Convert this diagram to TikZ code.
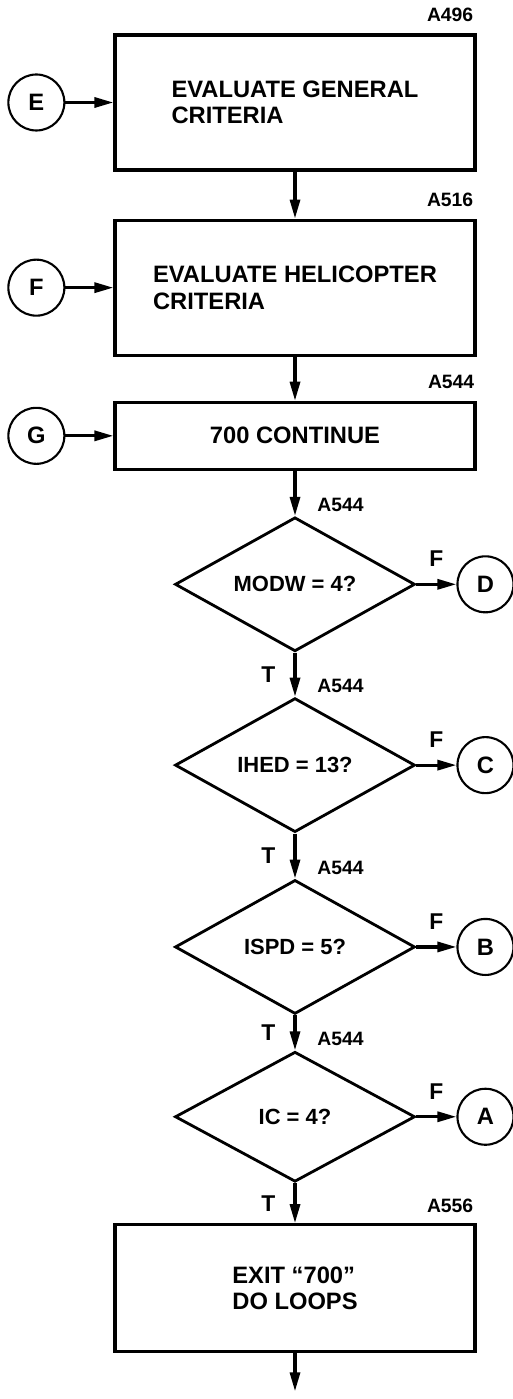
\documentclass[tikz,border=0pt]{standalone}
\usepackage{fontspec}
\setmainfont{Liberation Sans}
\usetikzlibrary{arrows.meta, positioning, shapes.geometric}
\tikzset{
  procbox/.style={draw=black, rectangle, align=left, line width=1.8pt, minimum width=7.2cm, font=\fontsize{13.5}{15}\selectfont\bfseries},
  tallbox/.style={procbox, minimum height=2.7cm},
  decision/.style={draw=black, diamond, aspect=1.8, line width=1.6pt, minimum width=4.8cm, minimum height=2.68cm, inner sep=0pt, font=\fontsize{12.5}{14.5}\selectfont\bfseries},
  connector/.style={draw=black, circle, line width=1.2pt, minimum size=1.12cm, inner sep=0pt, font=\fontsize{13.5}{15}\selectfont\bfseries},
  tag/.style={inner sep=0pt, font=\fontsize{11}{13}\selectfont\bfseries},
  branch/.style={inner sep=0pt, font=\fontsize{13}{15}\selectfont\bfseries},
  arrow/.style={-{Triangle[length=3.8mm, width=2mm]}, line width=1.8pt, draw=black}
}
\begin{document}
\begin{tikzpicture}
\useasboundingbox (0,0) rectangle (10.26,-27.98);

\node[tallbox] (gen) at (5.9,-2.05) {EVALUATE GENERAL\\CRITERIA};
\node[tallbox, below=0.94cm of gen] (heli) {EVALUATE HELICOPTER\\CRITERIA};
\node[procbox, minimum height=1.34cm, below=0.88cm of heli] (cont) {700 CONTINUE};
\node[decision, below=0.9cm of cont] (modw) {MODW = 4?};
\node[decision, below=0.88cm of modw] (ihed) {IHED = 13?};
\node[decision, below=0.9cm of ihed] (ispd) {ISPD = 5?};
\node[decision, minimum height=2.6cm, below=0.7cm of ispd] (ic) {IC = 4?};
\node[procbox, minimum height=2.54cm, below=0.8cm of ic] (exit) {EXIT ``700''\\DO LOOPS};
\coordinate[below=0.76cm of exit] (out);

% entry connectors
\node[connector, left=0.96cm of gen] (ce) {E};
\node[connector, left=0.96cm of heli] (cf) {F};
\node[connector, left=0.96cm of cont] (cg) {G};

% exit connectors
\node[connector, right=0.8cm of modw] (cd) {D};
\node[connector, right=0.8cm of ihed] (cc) {C};
\node[connector, right=0.8cm of ispd] (cb) {B};
\node[connector, right=0.8cm of ic] (ca) {A};

% step tags
\node[tag, above left=2.2mm and 0.6mm of gen.north east] (tgen) {A496};
\node[tag, above left=2.4mm and 0.6mm of heli.north east] (theli) {A516};
\node[tag, above left=2.4mm and 0.4mm of cont.north east] (tcont) {A544};
\node[tag, above right=0.8mm and 4.4mm of modw.north] (tmodw) {A544};
\node[tag, above right=0.8mm and 4.4mm of ihed.north] (tihed) {A544};
\node[tag, above right=0.8mm and 4.4mm of ispd.north] (tispd) {A544};
\node[tag, above right=0.8mm and 4.4mm of ic.north] (tic) {A544};
\node[tag, above left=2mm and 0.6mm of exit.north east] (texit) {A556};

\draw[arrow] (ce) -- (gen);
\draw[arrow] (cf) -- (heli);
\draw[arrow] (cg) -- (cont);
\draw[arrow] (gen) -- (heli);
\draw[arrow] (heli) -- (cont);
\draw[arrow] (cont) -- (modw);
\draw[arrow] (modw) -- node[branch, left=3.6mm] {T} (ihed);
\draw[arrow] (ihed) -- node[branch, left=3.6mm] {T} (ispd);
\draw[arrow] (ispd) -- node[branch, left=3.6mm] {T} (ic);
\draw[arrow] (ic) -- node[branch, left=3.6mm] {T} (exit);
\draw[arrow] (exit) -- (out);
\draw[arrow] (modw) -- node[branch, above=3.2mm] {F} (cd);
\draw[arrow] (ihed) -- node[branch, above=3.2mm] {F} (cc);
\draw[arrow] (ispd) -- node[branch, above=3.2mm] {F} (cb);
\draw[arrow] (ic) -- node[branch, above=3.2mm] {F} (ca);

\end{tikzpicture}
\end{document}
